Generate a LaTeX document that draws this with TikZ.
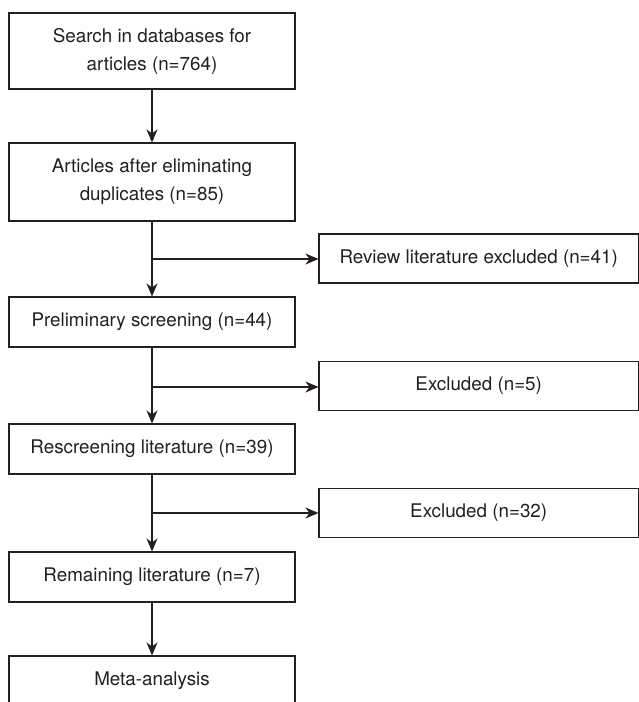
\documentclass[tikz,border=0pt]{standalone}
\usepackage{fontspec}
\setmainfont{TeX Gyre Heros}
\usetikzlibrary{arrows.meta}
\definecolor{ink}{HTML}{231F20}
\begin{document}
\begin{tikzpicture}[x=1pt,y=-1pt,
  box/.style={draw=ink, line width=1.1pt, rectangle, inner sep=0pt, minimum width=286pt,
    text=ink, font=\fontsize{18.8pt}{28pt}\selectfont, align=center},
  sidebox/.style={box, minimum width=319.4pt, minimum height=49pt},
  arr/.style={draw=ink, line width=1.1pt, -{Stealth[length=13pt,width=11pt,inset=4pt]}},
  ln/.style={draw=ink, line width=1.1pt}]
\useasboundingbox (0,0) rectangle (639,702);
\node[box, minimum height=76pt] (b1) at (152,51) {Search in databases for\\articles (n=764)};
\node[box, minimum height=78pt] (b2) at (152,182) {Articles after eliminating\\duplicates (n=85)};
\node[box, minimum height=50pt] (b3) at (152,322) {Preliminary screening (n=44)};
\node[box, minimum height=50pt] (b4) at (152,449) {Rescreening literature (n=39)};
\node[box, minimum height=50pt] (b5) at (152,577) {Remaining literature (n=7)};
\node[box, minimum height=50pt] (b6) at (152,681) {Meta-analysis};
\node[sidebox] (r1) at (478.7,258.5) {Review literature excluded (n=41)};
\node[sidebox] (r2) at (478.7,386) {Excluded (n=5)};
\node[sidebox] (r3) at (478.7,513) {Excluded (n=32)};
\coordinate (j1) at (152,259);
\coordinate (j2) at (152,387);
\coordinate (j3) at (152,513);
\draw[arr] (b1) -- (b2);
\draw[arr] (b2) -- (b3);
\draw[arr] (b3) -- (b4);
\draw[arr] (b4) -- (b5);
\draw[arr] (b5) -- (b6);
\draw[arr] (j1) -- (j1 -| r1.west);
\draw[arr] (j2) -- (j2 -| r2.west);
\draw[arr] (j3) -- (j3 -| r3.west);
\end{tikzpicture}
\end{document}
